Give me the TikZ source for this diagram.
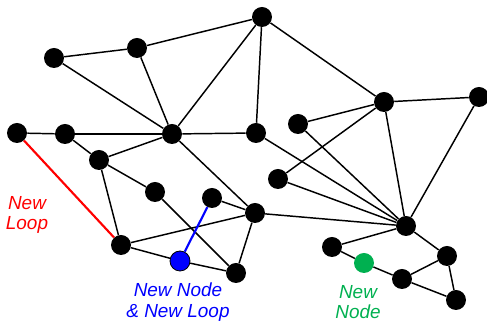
\documentclass[tikz,border=0pt]{standalone}
\usepackage{fontspec}
\setmainfont{Liberation Sans}
\definecolor{newred}{RGB}{255,0,0}
\definecolor{newblue}{RGB}{0,0,255}
\definecolor{newgreen}{RGB}{0,176,80}
\begin{document}
\begin{tikzpicture}[x=0.75pt,y=-0.75pt,
  dot/.style={circle,fill=black,minimum size=15pt,inner sep=0pt},
  edge/.style={draw=black,line width=1.1pt},
  lbl/.style={font=\fontsize{14.2}{15.5}\selectfont\itshape,align=center,inner sep=0pt}]
\useasboundingbox (0,0) rectangle (487,323);
% vertices
\node[dot] (A) at (262,17) {};
\node[dot] (B) at (54,58) {};
\node[dot] (C) at (137,48) {};
\node[dot] (D) at (384,102) {};
\node[dot] (E) at (479,97) {};
\node[dot] (F) at (17,133) {};
\node[dot] (G) at (65,134) {};
\node[dot] (H) at (172,134) {};
\node[dot] (I) at (256,133) {};
\node[dot] (J) at (298,124) {};
\node[dot] (K) at (99,160) {};
\node[dot] (L) at (155,192) {};
\node[dot] (M) at (212,198) {};
\node[dot] (N) at (278,179) {};
\node[dot] (O) at (255,213) {};
\node[dot] (P) at (406,226) {};
\node[dot] (Q) at (121,245) {};
\node[dot] (S) at (236,273) {};
\node[dot] (T) at (332,247) {};
\node[dot] (V) at (447,256) {};
\node[dot] (W) at (402,279) {};
\node[dot] (X) at (456,300) {};
% edges
\foreach \a/\b in {A/C,A/H,A/I,A/D,B/C,B/H,C/H,F/G,G/H,G/K,H/I,H/K,H/O,
  K/L,K/Q,L/S,Q/O,M/O,O/S,O/P,D/E,D/J,D/N,D/P,E/P,I/P,J/P,N/P,P/T,P/V,
  V/W,V/X,W/X}
  \path[edge] (\a) -- (\b);
% additions
\draw[newred,line width=1.6pt] (F) -- (Q);
\node[dot,fill=newblue,draw=black,line width=0.6pt] (R) at (180,261) {};
\draw[newblue,line width=1.6pt] (R) -- (M);
\path[edge] (Q) -- (R) (R) -- (S);
\node[dot,fill=newgreen] (U) at (364,263) {};
\path[edge] (T) -- (U) (U) -- (W);
% labels
\node[lbl,text=newred] (t1) at (27,215) {New\\Loop};
\node[lbl,text=newblue] (t2) at (178,302) {New Node\\\& New Loop};
\node[lbl,text=newgreen] (t3) at (358,302) {New\\Node};
\end{tikzpicture}
\end{document}
